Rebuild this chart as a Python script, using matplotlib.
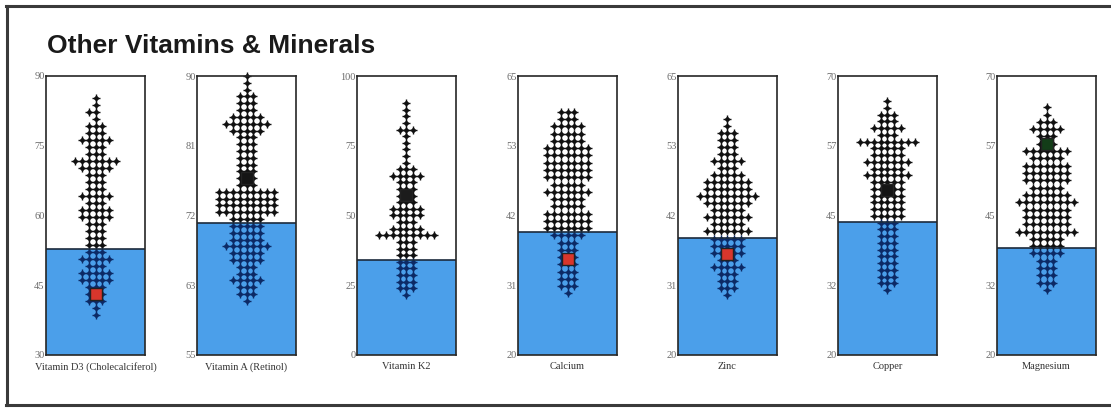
import numpy as np
import matplotlib
matplotlib.use("Agg")
import matplotlib.pyplot as plt
from matplotlib.lines import Line2D

# panel names, axis ranges, blue cut-off and the highlighted (square) value
names = ["Vitamin D3 (Cholecalciferol)", "Vitamin A (Retinol)", "Vitamin K2",
         "Calcium", "Zinc", "Copper", "Magnesium"]
y_ranges = [(30, 90), (55, 90), (0, 100), (20, 65), (20, 65), (20, 70), (20, 70)]
cutoffs = [52.9, 71.5, 34.0, 39.8, 38.9, 43.9, 39.1]
highlight = [43.2, 77.2, 57.3, 35.5, 36.3, 49.5, 57.8]
highlight_col = ["#d8362c", "#151515", "#1c1c1c", "#d8362c", "#d8362c", "#151515", "#133d18"]

# dot plot bins: value of the top row, bin width, and dots per row (top -> bottom)
top_row = [85.2, 90.0, 90.3, 59.2, 58.0, 65.5, 64.4]
bin_w = [1.5, 0.855, 2.37, 1.17, 1.13, 1.21, 1.31]
counts = [
    [1, 1, 2, 1, 3, 3, 5, 3, 3, 7, 5, 3, 3, 3, 5, 3, 5, 5, 3, 3, 3, 3, 3, 5, 3, 5, 5, 3, 3, 3, 1, 1],
    [1, 1, 1, 3, 3, 3, 5, 7, 5, 3, 3, 3, 3, 3, 3, 3, 3, 9, 9, 9, 9, 5, 5, 5, 5, 7, 5, 5, 3, 3, 5, 3, 3, 1],
    [1, 1, 1, 1, 3, 1, 1, 1, 1, 1, 3, 5, 3, 3, 3, 3, 5, 5, 3, 5, 9, 3, 3, 3, 3, 3, 3, 3, 3, 1],
    [3, 3, 5, 5, 5, 7, 7, 7, 7, 7, 5, 7, 5, 5, 7, 7, 7, 5, 3, 3, 3, 3, 3, 3, 3, 1],
    [1, 1, 3, 3, 3, 3, 5, 3, 5, 7, 7, 9, 7, 5, 7, 5, 7, 5, 5, 5, 3, 5, 3, 3, 3, 1],
    [1, 1, 3, 3, 5, 3, 9, 5, 5, 7, 5, 7, 5, 5, 5, 5, 5, 5, 3, 3, 3, 3, 3, 3, 3, 3, 3, 3, 1],
    [1, 1, 3, 5, 3, 3, 7, 5, 7, 7, 7, 5, 7, 9, 7, 7, 7, 9, 5, 5, 5, 3, 3, 3, 3, 1],
]

W, H = 1111, 408
lefts = [46, 197, 357, 518, 678, 838, 997]
ax_w, ax_top, ax_bot = 99, 76, 355
blue = "#4b9fea"
navy = "#0c2a66"

fig = plt.figure(figsize=(W / 100, H / 100), dpi=100)

# outer frame (right side runs off the picture)
frame = "#3a3a3a"
fig.add_artist(Line2D([6 / W, 1.0], [1 - 6 / H] * 2, color=frame, lw=2.2))
fig.add_artist(Line2D([7 / W] * 2, [1 - 6 / H, 1 - 405 / H], color=frame, lw=2.2))
fig.add_artist(Line2D([6 / W, 1.0], [1 - 405 / H] * 2, color=frame, lw=2.2))

fig.text(47 / W, 1 - 53 / H, "Other Vitamins & Minerals", family="Liberation Sans",
         weight="bold", fontsize=19, color="#1a1a1a", va="baseline")

for i, name in enumerate(names):
    ax = fig.add_axes([lefts[i] / W, 1 - ax_bot / H, ax_w / W, (ax_bot - ax_top) / H])
    lo, hi = y_ranges[i]
    ax.set_ylim(lo, hi)
    ax.set_xlim(-7.3, 7.3)

    ax.axhspan(lo, cutoffs[i], color=blue, lw=0, zorder=1)
    ax.axhline(cutoffs[i], color="#1b2a3c", lw=1.2, zorder=4)

    xs, ys = [], []
    for r, n in enumerate(counts[i]):
        level = top_row[i] - r * bin_w[i]
        for j in range(n):
            xs.append(j - n // 2)
            ys.append(level)
    xs, ys = np.array(xs), np.array(ys)
    below = ys < cutoffs[i]
    for mask, col in ((~below, "#111111"), (below, navy)):
        ax.plot(xs[mask], ys[mask], "+", color=col, ms=6, mew=1.0, zorder=3, clip_on=False)
        ax.plot(xs[mask], ys[mask], "D", color=col, ms=3.2, mew=0, zorder=3, clip_on=False)

    ax.plot([0], [highlight[i]], "s", ms=8.5, mfc=highlight_col[i], mec="#222222", mew=1.0, zorder=5)

    ticks = np.linspace(lo, hi, 5)
    ax.set_yticks(ticks)
    ax.set_yticklabels([str(int(t)) for t in ticks], family="Liberation Serif",
                       fontsize=7.5, color="#6a6a6a")
    ax.tick_params(axis="y", length=0, pad=1.0)
    ax.set_xticks([])
    for sp in ax.spines.values():
        sp.set_color("#262626")
        sp.set_linewidth(1.2)
        sp.set_zorder(6)
    ax.set_xlabel(name, family="Liberation Serif", fontsize=7.5, color="#333333", labelpad=5)

fig.savefig("out.png", dpi=100)
